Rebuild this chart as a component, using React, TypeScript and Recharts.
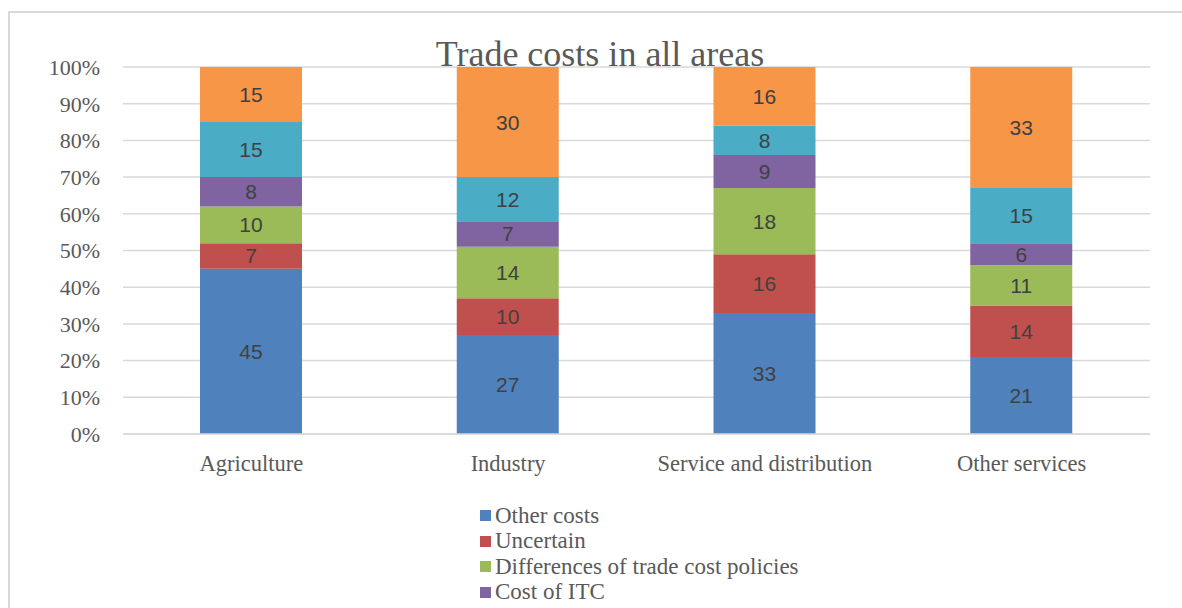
import React from "react";
import {
  BarChart,
  Bar,
  CartesianGrid,
  XAxis,
  YAxis,
  LabelList,
} from "recharts";

const categories = [
  "Agriculture",
  "Industry",
  "Service and distribution",
  "Other services",
];

const otherCosts = [45, 27, 33, 21];
const uncertain = [7, 10, 16, 14];
const policyDiff = [10, 14, 18, 11];
const itcCost = [8, 7, 9, 6];
const series5 = [15, 12, 8, 15];
const series6 = [15, 30, 16, 33];

const yTicks = [0, 10, 20, 30, 40, 50, 60, 70, 80, 90, 100];

const series = [
  { key: "otherCosts", name: "Other costs", color: "#4F81BD", values: otherCosts, legend: true },
  { key: "uncertain", name: "Uncertain", color: "#C0504D", values: uncertain, legend: true },
  { key: "policyDiff", name: "Differences of trade cost policies", color: "#9BBB59", values: policyDiff, legend: true },
  { key: "itcCost", name: "Cost of ITC", color: "#8064A2", values: itcCost, legend: true },
  { key: "s5", name: "s5", color: "#4BACC6", values: series5, legend: false },
  { key: "s6", name: "s6", color: "#F79646", values: series6, legend: false },
];

const data = categories.map((name, i) => {
  const row: Record<string, string | number> = { name };
  series.forEach((s) => {
    row[s.key] = s.values[i];
  });
  return row;
});

const serif = "'Liberation Serif', 'Times New Roman', serif";

export default function App() {
  return (
    <div
      style={{
        position: "fixed",
        left: 0,
        top: 0,
        width: 1182,
        height: 608,
        overflow: "hidden",
        background: "#fff",
      }}
    >
      <div
        style={{
          position: "absolute",
          left: 8,
          top: 11,
          width: 1190,
          height: 610,
          border: "2px solid #d9d9d9",
          overflow: "hidden",
          background: "#fff",
        }}
      >
        <BarChart
          width={1172}
          height={595}
          data={data}
          margin={{ top: 54, right: 32, bottom: 144, left: 0 }}
        >
          <CartesianGrid vertical={false} stroke="#d9d9d9" strokeWidth={1.5} />
          <XAxis
            dataKey="name"
            height={30}
            tickLine={false}
            tickSize={0}
            tickMargin={21}
            axisLine={{ stroke: "#d9d9d9", strokeWidth: 1.5 }}
            tick={{ fill: "#595959", fontSize: 22.5, fontFamily: serif }}
          />
          <YAxis
            width={113}
            domain={[0, 100]}
            ticks={yTicks}
            interval={0}
            tickFormatter={(v: number) => `${v}%`}
            axisLine={false}
            tickLine={false}
            tickSize={0}
            tickMargin={23}
            tick={{ fill: "#595959", fontSize: 22, fontFamily: serif }}
          />
          {series.map((s) => (
            <Bar
              key={s.key}
              dataKey={s.key}
              name={s.name}
              stackId="a"
              fill={s.color}
              barSize={102}
              isAnimationActive={false}
            >
              <LabelList
                dataKey={s.key}
                position="center"
                fill="#404040"
                fontSize={21}
                fontFamily="'Liberation Sans', Arial, sans-serif"
              />
            </Bar>
          ))}
        </BarChart>
        <div
          style={{
            position: "absolute",
            left: 0,
            width: 1180,
            top: 21,
            textAlign: "center",
            fontFamily: serif,
            fontSize: 36,
            color: "#595959",
            lineHeight: "40px",
            pointerEvents: "none",
          }}
        >
          Trade costs in all areas
        </div>
        <div
          style={{
            position: "absolute",
            left: 470,
            top: 490,
            fontFamily: serif,
            fontSize: 23,
            color: "#595959",
          }}
        >
          {series
            .filter((s) => s.legend)
            .map((s) => (
              <div
                key={s.key}
                style={{ display: "flex", alignItems: "center", height: 25.5 }}
              >
                <span
                  style={{
                    display: "inline-block",
                    width: 11,
                    height: 11,
                    background: s.color,
                    marginRight: 4,
                  }}
                />
                <span>{s.name}</span>
              </div>
            ))}
        </div>
      </div>
    </div>
  );
}
